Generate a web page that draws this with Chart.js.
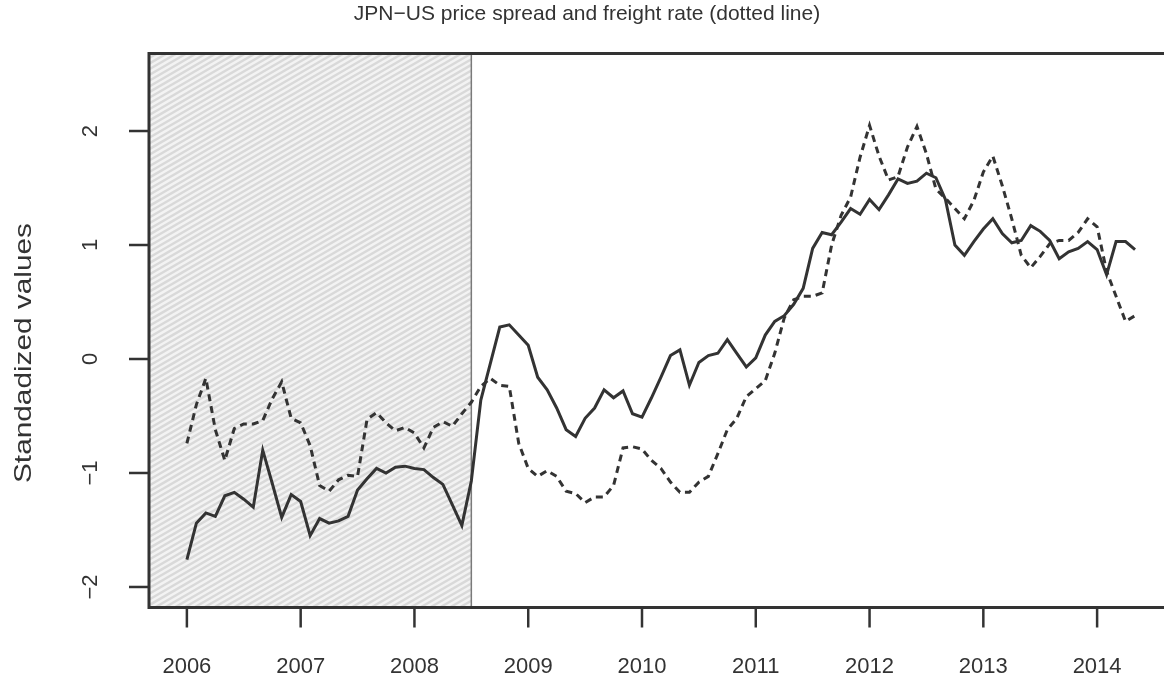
<!DOCTYPE html>
<html>
<head>
<meta charset="utf-8">
<script src="https://cdn.jsdelivr.net/npm/chart.js@4.4.1/dist/chart.umd.min.js"></script>
<style>
  html, body { margin: 0; padding: 0; background: #fff; overflow: hidden; }
  #wrap { width: 1164px; height: 685px; overflow: hidden; }
</style>
</head>
<body>
<div id="wrap"><canvas id="chart" width="1190" height="685"></canvas></div>
<script>
// monthly series, Jan 2006 .. May 2014
const START_YEAR = 2006;

const spreadValues = [
  -1.76, -1.44, -1.35, -1.38, -1.20, -1.17, -1.23, -1.30, -0.80, -1.09, -1.39, -1.19,
  -1.25, -1.55, -1.40, -1.44, -1.42, -1.38, -1.15, -1.05, -0.96, -1.00, -0.95, -0.94,
  -0.96, -0.97, -1.04, -1.10, -1.28, -1.46, -1.07, -0.36, -0.04, 0.28, 0.30, 0.21,
  0.12, -0.16, -0.27, -0.43, -0.62, -0.68, -0.52, -0.43, -0.27, -0.34, -0.28, -0.48,
  -0.51, -0.34, -0.16, 0.03, 0.08, -0.23, -0.03, 0.03, 0.05, 0.17, 0.05, -0.07,
  0.01, 0.21, 0.33, 0.38, 0.48, 0.62, 0.97, 1.11, 1.09, 1.20, 1.32, 1.27,
  1.40, 1.31, 1.44, 1.58, 1.54, 1.56, 1.63, 1.59, 1.40, 1.00, 0.91, 1.03,
  1.14, 1.23, 1.10, 1.02, 1.04, 1.17, 1.12, 1.04, 0.88, 0.94, 0.97, 1.03,
  0.96, 0.74, 1.03, 1.03, 0.96
];

const freightValues = [
  -0.74, -0.40, -0.17, -0.62, -0.89, -0.61, -0.57, -0.57, -0.54, -0.35, -0.20, -0.52,
  -0.56, -0.76, -1.11, -1.16, -1.06, -1.02, -1.03, -0.53, -0.47, -0.56, -0.63, -0.60,
  -0.65, -0.78, -0.60, -0.55, -0.59, -0.48, -0.38, -0.24, -0.17, -0.23, -0.24, -0.74,
  -0.96, -1.03, -0.98, -1.03, -1.16, -1.18, -1.26, -1.21, -1.21, -1.11, -0.78, -0.77,
  -0.79, -0.89, -0.96, -1.08, -1.17, -1.17, -1.08, -1.03, -0.83, -0.62, -0.52, -0.33,
  -0.26, -0.19, 0.05, 0.36, 0.52, 0.55, 0.55, 0.58, 1.00, 1.26, 1.42, 1.77,
  2.05, 1.78, 1.57, 1.60, 1.86, 2.04, 1.80, 1.49, 1.41, 1.32, 1.23, 1.39,
  1.64, 1.78, 1.52, 1.23, 0.91, 0.80, 0.90, 1.01, 1.04, 1.04, 1.11, 1.23,
  1.16, 0.77, 0.55, 0.33, 0.38
];

const yearTicks = [2006, 2007, 2008, 2009, 2010, 2011, 2012, 2013, 2014];
const valueTicks = [-2, -1, 0, 1, 2];
const shadeEnd = 2008.5;

const ink = '#333333';
const fontFamily = '"Liberation Sans", Arial, Helvetica, sans-serif';

function toPoints(values) {
    return values.map((v, i) => ({ x: START_YEAR + i / 12, y: v }));
}

// hatched pre-2008.5 block, box, ticks and labels in R style
const rFrame = {
    id: 'rFrame',
    beforeDatasetsDraw(chart) {
        const { ctx, chartArea: a, scales: { x } } = chart;
        const xEnd = x.getPixelForValue(shadeEnd);
        ctx.save();
        ctx.beginPath();
        ctx.rect(a.left, a.top, xEnd - a.left, a.bottom - a.top);
        ctx.clip();
        ctx.fillStyle = '#f3f3f3';
        ctx.fillRect(a.left, a.top, xEnd - a.left, a.bottom - a.top);
        ctx.strokeStyle = '#d9d9d9';
        ctx.lineWidth = 2.4;
        const slope = 0.58;
        const w = xEnd - a.left;
        for (let y0 = a.top; y0 < a.bottom + w * slope + 10; y0 += 5.7) {
            ctx.beginPath();
            ctx.moveTo(a.left - 2, y0);
            ctx.lineTo(xEnd + 2, y0 - (w + 4) * slope);
            ctx.stroke();
        }
        ctx.restore();

        ctx.save();
        ctx.strokeStyle = '#7a7a7a';
        ctx.lineWidth = 1.5;
        ctx.beginPath();
        ctx.moveTo(xEnd, a.top);
        ctx.lineTo(xEnd, a.bottom);
        ctx.stroke();
        ctx.restore();
    },
    afterDraw(chart) {
        const { ctx, chartArea: a, scales: { x, y } } = chart;
        ctx.save();
        ctx.strokeStyle = ink;
        ctx.lineWidth = 3;
        ctx.strokeRect(a.left, a.top, a.right - a.left, a.bottom - a.top);

        ctx.lineWidth = 2.5;
        ctx.fillStyle = ink;
        ctx.font = '22px ' + fontFamily;
        ctx.textAlign = 'center';
        ctx.textBaseline = 'middle';
        yearTicks.forEach(yr => {
            const px = x.getPixelForValue(yr);
            ctx.beginPath();
            ctx.moveTo(px, a.bottom);
            ctx.lineTo(px, a.bottom + 20);
            ctx.stroke();
            ctx.fillText(String(yr), px, 667);
        });
        valueTicks.forEach(v => {
            const py = y.getPixelForValue(v);
            ctx.beginPath();
            ctx.moveTo(a.left, py);
            ctx.lineTo(a.left - 20, py);
            ctx.stroke();
            ctx.save();
            ctx.translate(91, py);
            ctx.rotate(-Math.PI / 2);
            ctx.fillText(v < 0 ? '\u2212' + Math.abs(v) : String(v), 0, 0);
            ctx.restore();
        });

        // axis title
        ctx.save();
        ctx.translate(24, 353);
        ctx.rotate(-Math.PI / 2);
        ctx.font = '24px ' + fontFamily;
        const label = 'Standadized values';
        const tw = ctx.measureText(label).width;
        ctx.scale(260 / tw, 1);
        ctx.fillText(label, 0, 0);
        ctx.restore();

        ctx.font = '21px ' + fontFamily;
        ctx.fillText('JPN\u2212US price spread and freight rate (dotted line)', 587, 14);
        ctx.restore();
    }
};

const ctx = document.getElementById('chart').getContext('2d');
new Chart(ctx, {
    type: 'line',
    data: {
        datasets: [{
            label: 'JPN-US price spread',
            data: toPoints(spreadValues),
            borderColor: ink,
            borderWidth: 3,
            pointRadius: 0,
            tension: 0,
            fill: false
        }, {
            label: 'Freight rate',
            data: toPoints(freightValues),
            borderColor: ink,
            borderWidth: 3,
            borderDash: [7, 5],
            pointRadius: 0,
            tension: 0,
            fill: false
        }]
    },
    options: {
        responsive: false,
        devicePixelRatio: 1,
        animation: false,
        layout: {
            padding: { left: 149, right: 17, top: 53.5, bottom: 77.5 }
        },
        scales: {
            x: { type: 'linear', min: 2005.667, max: 2014.667, display: false },
            y: { type: 'linear', min: -2.18, max: 2.68, display: false }
        },
        plugins: {
            legend: { display: false },
            tooltip: { enabled: false }
        }
    },
    plugins: [rFrame]
});
</script>
</body>
</html>
